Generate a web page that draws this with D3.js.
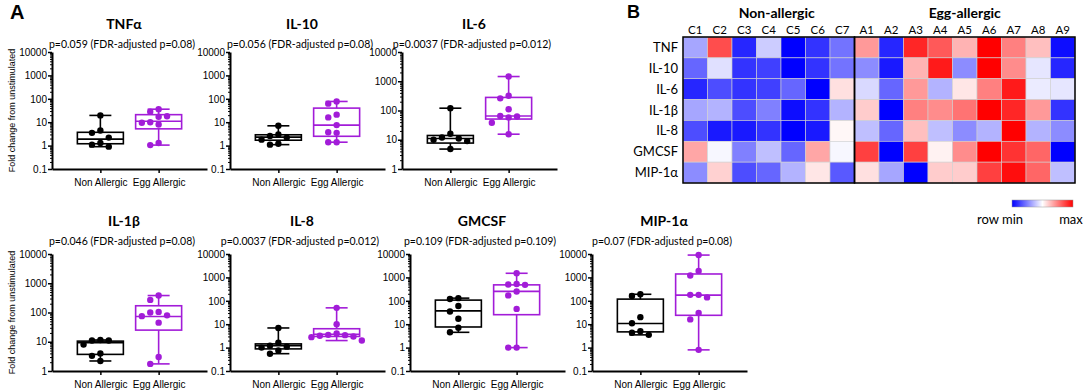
<!DOCTYPE html>
<html>
<head>
<meta charset="utf-8">
<script src="https://cdn.jsdelivr.net/npm/d3@7"></script>
<style>
  html, body { margin: 0; padding: 0; background: #fff; }
  #chart-container { width: 1084px; height: 390px; }
  .title { font-family: Lato, "Open Sans", sans-serif; font-weight: bold; }
  .ptext { font-family: Lato, "Open Sans", sans-serif; }
  .axis text { font-family: "Liberation Sans", Arial, sans-serif; font-size: 10px; fill: #000; }
  .axis path, .axis line { stroke: #000; }
</style>
</head>
<body>
<div id="chart-container"></div>
<script>
// Panel A data: fold change from unstimulated, per cytokine
const cytokines = ["TNFα", "IL-10", "IL-6", "IL-1β", "IL-8", "GMCSF", "MIP-1α"];
const pTexts = [
  "p=0.059 (FDR-adjusted p=0.08)",
  "p=0.056 (FDR-adjusted p=0.08)",
  "p=0.0037 (FDR-adjusted p=0.012)",
  "p=0.046 (FDR-adjusted p=0.08)",
  "p=0.0037 (FDR-adjusted p=0.012)",
  "p=0.109 (FDR-adjusted p=0.109)",
  "p=0.07 (FDR-adjusted p=0.08)"
];
const groups = ["Non Allergic", "Egg Allergic"];
const yTickValues = [
  [0.1, 1, 10, 100, 1000, 10000],
  [0.1, 1, 10, 100, 1000, 10000],
  [1, 10, 100, 1000, 10000],
  [1, 10, 100, 1000, 10000],
  [0.1, 1, 10, 100, 1000, 10000],
  [0.1, 1, 10, 100, 1000, 10000],
  [0.1, 1, 10, 100, 1000, 10000]
];
const nonAllergic = [
  [19.5, 4.4, 3.5, 2.2, 1.3, 1.1, 0.9],
  [7, 3, 2.6, 2.2, 1.8, 1.2, 1.1],
  [120, 16, 12, 11, 10, 9, 4.8],
  [11.5, 11, 11, 8, 4, 3.3, 2.2],
  [6.9, 1.6, 1.2, 1.1, 1.0, 0.75, 0.55],
  [130, 120, 60, 35, 17, 7, 4.5],
  [190, 160, 20, 11, 5, 4.3, 3.5]
];
const eggAllergic = [
  [36, 28, 18, 17, 10, 9.5, 8, 1.3, 1.05],
  [77, 62, 21, 16, 7.5, 3.7, 3.5, 1.4, 1.4],
  [1450, 320, 260, 110, 65, 62, 58, 38, 15.5],
  [380, 270, 105, 100, 80, 75, 45, 3, 1.75],
  [50, 10, 4, 3.5, 3.4, 3.2, 3, 2.8, 2],
  [1500, 520, 500, 480, 250, 170, 45, 1.0, 1.0],
  [9000, 1900, 1200, 180, 180, 140, 30, 16, 0.8]
];
// box quartiles [Q1, median, Q3]
const nonBox = [
  [1.2, 1.9, 3.7],
  [1.7, 2.3, 2.9],
  [7.7, 11, 14],
  [3.7, 9.3, 10.5],
  [0.88, 1.22, 1.44],
  [7.6, 37, 107],
  [4.7, 10.7, 118]
];
const eggBox = [
  [5.2, 11, 21],
  [2.5, 7.5, 40],
  [51, 65, 280],
  [25, 73, 170],
  [3.0, 3.7, 6.4],
  [25.5, 254, 480],
  [24, 175, 1400]
];

// Panel B data: row-scaled values (-1 = row min, 1 = row max)
const hmRows = ["TNF", "IL-10", "IL-6", "IL-1β", "IL-8", "GMCSF", "MIP-1α"];
const hmCols = ["C1", "C2", "C3", "C4", "C5", "C6", "C7", "A1", "A2", "A3", "A4", "A5", "A6", "A7", "A8", "A9"];
const hmGroups = ["Non-allergic", "Egg-allergic"];
const hmValues = [
  [-0.35, 0.7, -0.85, -0.2, -1, -0.8, -0.55, 0.4, -0.85, 0.85, 0.65, 0.3, 1, 0.5, 0.25, -0.95],
  [-0.6, -0.12, -0.8, -0.75, -1, -0.8, -0.55, -0.45, -0.9, 0.3, 0.9, -0.45, 1, 0.45, -0.1, -0.85],
  [-0.85, -0.7, -0.8, -0.75, -0.6, -1, 0.12, -0.15, -0.6, 0.4, -0.3, 0.1, 0.5, 0.9, -0.08, -0.1],
  [-0.35, -0.3, -0.7, -0.5, -0.95, -0.8, -0.3, 0.2, -1, 0.5, 0.45, 0.55, 1, 0.85, 0.4, -0.8],
  [-0.7, -0.9, -0.9, -0.8, -1, -0.9, 0.03, -0.25, -0.6, 0.25, -0.25, -0.45, -0.3, 1, -0.3, -0.45],
  [0.35, -0.03, -0.5, -0.25, -0.6, 0.35, -0.03, 0.75, -1, 0.75, 0.05, 0.45, 1, 0.8, 0.6, -1],
  [-0.45, 0.18, -0.7, -0.6, -0.3, 0.1, -0.65, 0.12, -0.35, -1, 0.2, 0.2, 0.75, 0.95, 0.6, -0.25]
];

(function() {
  const width = 1084, height = 390;
  const svg = d3.select('#chart-container').append("svg")
    .attr("width", width).attr("height", height);

  const groupColors = ["#000000", "#a21cd8"];
  const plotW = 155, plotH = 117;
  const layout = [
    {x: 52, y: 52}, {x: 230, y: 52}, {x: 402, y: 52},
    {x: 52, y: 254}, {x: 230, y: 254}, {x: 410, y: 254}, {x: 592, y: 254}
  ];

  svg.append("text").attr("class", "title").attr("x", 10).attr("y", 19)
    .style("font-family", "'Liberation Sans', Arial, sans-serif")
    .style("font-size", "20px").text("A");
  svg.append("text").attr("class", "title").attr("x", 627).attr("y", 18)
    .style("font-family", "'Liberation Sans', Arial, sans-serif")
    .style("font-size", "18px").text("B");

  // place points side by side when they overlap
  function swarm(vals, yScale, r) {
    const placed = [];
    const step = 2 * r + 2;
    const order = vals.map((v, i) => i).sort((a, b) => vals[b] - vals[a]);
    const out = new Array(vals.length);
    order.forEach(i => {
      const y = yScale(vals[i]);
      const cands = [0, -step, step, -2 * step, 2 * step, -3 * step, 3 * step];
      let dx = 0;
      for (const c of cands) {
        if (placed.every(p => Math.hypot(p.dx - c, p.y - y) >= 2 * r + 1)) { dx = c; break; }
      }
      placed.push({dx, y});
      out[i] = {v: vals[i], dx, y};
    });
    return out;
  }

  cytokines.forEach((name, k) => {
    const L = layout[k];
    const g = svg.append("g").attr("transform", `translate(${L.x},${L.y})`);
    const ticks = yTickValues[k];
    const y = d3.scaleLog()
      .domain([ticks[0], ticks[ticks.length - 1]])
      .range([plotH, 0]);
    const x = d3.scalePoint().domain(groups).range([0, plotW]).padding(0.83);

    g.append("text").attr("class", "title")
      .attr("x", 72).attr("y", k < 3 ? -23 : -28)
      .attr("text-anchor", "middle").style("font-size", "14px").text(name);
    g.append("text").attr("class", "ptext")
      .attr("x", 70).attr("y", k < 3 ? -4 : -9)
      .attr("text-anchor", "middle").style("font-size", "10.5px").text(pTexts[k]);

    // minor ticks
    const minor = [];
    for (let e = Math.log10(ticks[0]); e < Math.log10(ticks[ticks.length - 1]); e++) {
      for (let m = 2; m < 10; m++) minor.push(m * Math.pow(10, e));
    }
    g.append("g").attr("class", "axis")
      .call(d3.axisLeft(y).tickValues(minor).tickSize(2).tickSizeOuter(0).tickFormat(""))
      .call(a => a.select(".domain").remove());
    g.append("g").attr("class", "axis")
      .call(d3.axisLeft(y).tickValues(ticks).tickSize(4).tickSizeOuter(0)
        .tickFormat(d3.format("~g")))
      .call(a => a.select(".domain").attr("stroke-width", 2))
      .call(a => a.selectAll(".tick line").attr("stroke-width", 1.5))
      .call(a => a.selectAll(".tick text").attr("x", -5));

    g.append("g").attr("class", "axis").attr("transform", `translate(0,${plotH})`)
      .call(d3.axisBottom(x).tickSize(4).tickSizeOuter(0))
      .call(a => a.select(".domain").attr("stroke-width", 2))
      .call(a => a.selectAll(".tick line").attr("stroke-width", 1.5))
      .call(a => a.selectAll(".tick text").attr("dy", "0.95em"));

    if (k === 0 || k === 3) {
      g.append("text")
        .attr("transform", `translate(${-37},${plotH / 2}) rotate(-90)`)
        .attr("text-anchor", "middle")
        .style("font-family", "'Liberation Sans', Arial, sans-serif")
        .style("font-size", "9px")
        .text("Fold change from unstimulated");
    }

    const sets = [nonAllergic[k], eggAllergic[k]];
    const boxes = [nonBox[k], eggBox[k]];
    const boxW = 46, capW = 22;
    groups.forEach((grp, gi) => {
      const cx = x(grp);
      const col = groupColors[gi];
      const vals = sets[gi];
      const [q1, med, q3] = boxes[gi];
      const lo = d3.min(vals), hi = d3.max(vals);
      const bg = g.append("g").attr("stroke", col).attr("stroke-width", 1.6).attr("fill", "none");
      bg.append("line").attr("x1", cx).attr("x2", cx).attr("y1", y(hi)).attr("y2", y(q3));
      bg.append("line").attr("x1", cx).attr("x2", cx).attr("y1", y(q1)).attr("y2", y(lo));
      bg.append("line").attr("x1", cx - capW / 2).attr("x2", cx + capW / 2).attr("y1", y(hi)).attr("y2", y(hi));
      bg.append("line").attr("x1", cx - capW / 2).attr("x2", cx + capW / 2).attr("y1", y(lo)).attr("y2", y(lo));
      bg.append("rect").attr("x", cx - boxW / 2).attr("width", boxW)
        .attr("y", y(q3)).attr("height", y(q1) - y(q3));
      bg.append("line").attr("x1", cx - boxW / 2).attr("x2", cx + boxW / 2).attr("y1", y(med)).attr("y2", y(med));

      g.append("g").selectAll("circle")
        .data(swarm(vals, y, 3.2))
        .enter().append("circle")
        .attr("cx", d => cx + d.dx)
        .attr("cy", d => d.y)
        .attr("r", 3.2)
        .attr("fill", col);
    });
  });

  // Panel B heatmap
  const hm = {x: 683, y: 37, w: 392, h: 146};
  const hx = d3.scaleBand().domain(hmCols).range([hm.x, hm.x + hm.w]);
  const hy = d3.scaleBand().domain(hmRows).range([hm.y, hm.y + hm.h]);
  const color = d3.scaleLinear().domain([-1, 0, 1]).range(["#0000ff", "#ffffff", "#ff0000"]);

  const cells = [];
  hmRows.forEach((r, i) => hmCols.forEach((c, j) => cells.push({r, c, v: hmValues[i][j]})));
  svg.append("g").selectAll("rect").data(cells).enter().append("rect")
    .attr("x", d => hx(d.c)).attr("y", d => hy(d.r))
    .attr("width", hx.bandwidth()).attr("height", hy.bandwidth())
    .attr("fill", d => color(d.v))
    .attr("stroke", "#d0d0d0").attr("stroke-width", 0.6);

  const nNon = hmCols.filter(c => c[0] === "C").length;
  const splits = [[hmCols[0], hmCols[nNon - 1]], [hmCols[nNon], hmCols[hmCols.length - 1]]];
  splits.forEach(([a, b], i) => {
    const x0 = hx(a), x1 = hx(b) + hx.bandwidth();
    svg.append("rect").attr("x", x0).attr("y", hm.y).attr("width", x1 - x0).attr("height", hm.h)
      .attr("fill", "none").attr("stroke", "#000").attr("stroke-width", 1.5);
    svg.append("text").attr("class", "title")
      .attr("x", (x0 + x1) / 2 + (i === 0 ? 8 : 0)).attr("y", 18)
      .attr("text-anchor", "middle").style("font-size", "14px").text(hmGroups[i]);
  });

  svg.append("g").selectAll("text").data(hmCols).enter().append("text")
    .attr("class", "ptext")
    .attr("x", d => hx(d) + hx.bandwidth() / 2).attr("y", hm.y - 3)
    .attr("text-anchor", "middle").style("font-size", "11.5px").text(d => d);

  svg.append("g").selectAll("text").data(hmRows).enter().append("text")
    .attr("class", "ptext")
    .attr("x", hm.x - 5).attr("y", d => hy(d) + hy.bandwidth() / 2)
    .attr("dy", "0.35em")
    .attr("text-anchor", "end").style("font-size", "13px").text(d => d);

  // legend
  const defs = svg.append("defs");
  const grad = defs.append("linearGradient").attr("id", "hm-grad");
  [-1, 0, 1].forEach(v => grad.append("stop")
    .attr("offset", `${(v + 1) * 50}%`).attr("stop-color", color(v)));
  svg.append("rect").attr("x", 1012).attr("y", 200).attr("width", 61).attr("height", 7)
    .attr("fill", "url(#hm-grad)").attr("stroke", "#999").attr("stroke-width", 0.5);
  svg.append("text").attr("class", "ptext").attr("x", 1000).attr("y", 224)
    .attr("text-anchor", "middle").style("font-size", "13px").text("row min");
  svg.append("text").attr("class", "ptext").attr("x", 1071).attr("y", 224)
    .attr("text-anchor", "middle").style("font-size", "13px").text("max");
})();
</script>
</body>
</html>
